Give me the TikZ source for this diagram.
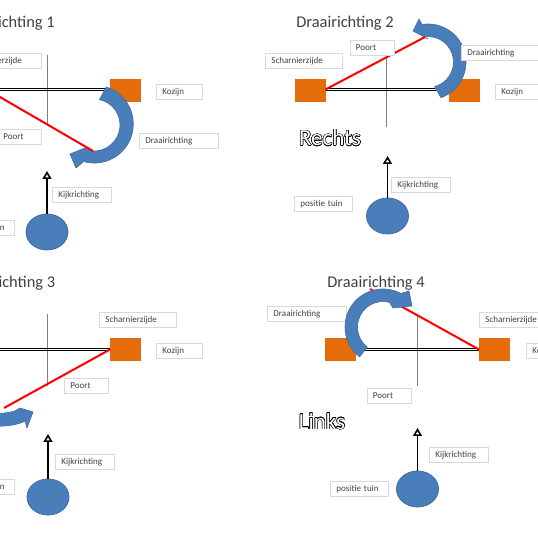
\documentclass[tikz,border=0pt]{standalone}
\usepackage{fontspec}
\setmainfont{Carlito}
\usepackage[copies]{contour}
\usetikzlibrary{arrows.meta,calc,shapes.geometric}
\definecolor{boxgray}{HTML}{D9D9D9}
\definecolor{textgray}{HTML}{404040}
\definecolor{framecol}{HTML}{E46C0A}
\definecolor{bluefill}{HTML}{4A7EBB}
\definecolor{blueline}{HTML}{3F6C9F}
\contourlength{0.5pt}
\contournumber{16}
\tikzset{
  lab/.style = {draw=boxgray, line width=.9pt, fill=white, anchor=west, inner xsep=6pt, inner ysep=0pt,
    text width=#1pt, text height=7pt, text depth=1pt, minimum height=15pt, font=\fontsize{9}{10}\selectfont, text=textgray},
  title/.style = {font=\fontsize{16.4}{18}\selectfont, text=textgray},
  side/.style = {font=\fontsize{23}{25}\selectfont, text=white},
  frame/.style = {fill=framecol, minimum width=31pt, minimum height=23pt, inner sep=0pt},
  eye/.style = {ellipse, draw=blueline, fill=bluefill, line width=.8pt, minimum width=42pt, minimum height=36pt, inner sep=0pt},
  doorline/.style = {draw=black, line width=.9pt},
  gate/.style = {red, line width=2pt},
  axis/.style = {draw=gray, line width=.8pt},
  look/.style = {line width=1.6pt, -{Triangle[open,length=8pt,width=9pt]}},
  turn/.style = {fill=bluefill, draw=blueline, line width=.6pt}
}
\begin{document}
\begin{tikzpicture}[x=1pt, y=1pt]
  \useasboundingbox (0,0) rectangle (538,538);
  \clip (0,0) rectangle (538,538);

  % Draairichting 1
  \node[title] (title1) at (6,515) {Draairichting 1};
  \coordinate (top1) at (47.5,483);
  \coordinate (bot1) at (47.5,413);
  \coordinate (hinge1) at (-13,448.5);
  \coordinate (door1) at (107,448.5);
  \coordinate (tip1) at (93,387);
  \coordinate (hand1) at (47,367);
  \coordinate (turn1) at (94,413);
  \node[frame] (frame1) at (125.5,447.5) {};
  \draw[axis] (top1) -- (bot1);
  \draw[doorline] ([yshift=1.2pt]hinge1) -- ([yshift=1.2pt]door1);
  \draw[doorline] ([yshift=-1.2pt]hinge1) -- ([yshift=-1.2pt]door1);
  \draw[turn] ($(turn1)+(72:40)$) arc[start angle=72, end angle=-106, radius=39]
    -- (76,370) -- (70,384) -- (85,390) -- ($(turn1)+(-95:26)$)
    arc[start angle=-95, end angle=78, radius=26] -- cycle;
  \draw[gate] (hinge1) -- (tip1);
  \node[lab=65] (hinge1lab) at (-36,477.5) {Scharnierzijde};
  \node[lab=32] (poort1) at (-3,401) {Poort};
  \node[lab=34] (kozijn1) at (156,446.5) {Kozijn};
  \node[lab=67] (draai1) at (139,397.5) {Draairichting};
  \node[lab=47] (kijk1) at (52,343) {Kijkrichting};
  \node[lab=46] (tuin1) at (-44,310.5) {positie tuin};
  \node[eye] (eye1) at (47,306) {};
  \draw[look] (eye1) -- (hand1);

  % Draairichting 2
  \node[title] (title2) at (345,515) {Draairichting 2};
  \coordinate (top2) at (386.5,483);
  \coordinate (bot2) at (386.5,411);
  \coordinate (hinge2) at (325.5,448.5);
  \coordinate (door2) at (437,448.5);
  \coordinate (tip2) at (425,501);
  \coordinate (hand2) at (387.5,382);
  \coordinate (turn2) at (428,476);
  \node[frame] (frame2a) at (310,447.5) {};
  \node[frame] (frame2b) at (464,447.5) {};
  \draw[axis] (top2) -- (bot2);
  \draw[doorline] ([yshift=1.2pt]hinge2) -- ([yshift=1.2pt]door2);
  \draw[doorline] ([yshift=-1.2pt]hinge2) -- ([yshift=-1.2pt]door2);
  \draw[turn] ($(turn2)+(-70:38)$) arc[start angle=-70, end angle=99, radius=38]
    -- (419,519) -- (413,507) -- (428,499) -- ($(turn2)+(98:25.5)$)
    arc[start angle=98, end angle=-75, radius=25.5] -- cycle;
  \draw[gate] (hinge2) -- (tip2);
  \node[lab=65] (hinge2lab) at (265,477.5) {Scharnierzijde};
  \node[lab=32] (poort2) at (349.5,490.5) {Poort};
  \node[lab=67] (draai2) at (461,485.5) {Draairichting};
  \node[lab=34] (kozijn2) at (495,446.5) {Kozijn};
  \node[lab=47] (kijk2) at (391,353.5) {Kijkrichting};
  \node[lab=46] (tuin2) at (294,334.5) {positie tuin};
  \node[side] (rechts) at (330,400) {\contour{black}{Rechts}};
  \node[eye] (eye2) at (387.5,322) {};
  \draw[look] (eye2) -- (hand2);

  % Draairichting 3
  \node[title] (title3) at (6.5,255) {Draairichting 3};
  \coordinate (top3) at (47.5,224);
  \coordinate (bot3) at (47.5,152);
  \coordinate (hinge3) at (110,188.5);
  \coordinate (door3) at (-13,188.5);
  \coordinate (tip3) at (4,130);
  \coordinate (hand3) at (48,104);
  \node[frame] (frame3) at (125.5,188) {};
  \draw[axis] (top3) -- (bot3);
  \draw[doorline] ([yshift=1.2pt]hinge3) -- ([yshift=1.2pt]door3);
  \draw[doorline] ([yshift=-1.2pt]hinge3) -- ([yshift=-1.2pt]door3);
  \draw[turn] (-10,112) .. controls (5,111) and (18,113) .. (25,117)
    -- (27,110) -- (33,126) -- (20,130) -- (15,127)
    .. controls (8,125) and (0,124) .. (-10,125) -- cycle;
  \draw[gate] (hinge3) -- (tip3);
  \node[lab=65] (hinge3lab) at (99,218) {Scharnierzijde};
  \node[lab=34] (kozijn3) at (156,187) {Kozijn};
  \node[lab=32] (poort3) at (64,152) {Poort};
  \node[lab=47] (kijk3) at (55,76) {Kijkrichting};
  \node[lab=46] (tuin3) at (-44,51.5) {positie tuin};
  \node[eye] (eye3) at (48,41) {};
  \draw[look] (eye3) -- (hand3);

  % Draairichting 4
  \node[title] (title4) at (376,255) {Draairichting 4};
  \coordinate (top4) at (417,224);
  \coordinate (bot4) at (417,152);
  \coordinate (hinge4) at (479,188.5);
  \coordinate (door4) at (360,188.5);
  \coordinate (tip4) at (370,249);
  \coordinate (hand4) at (417.5,110);
  \coordinate (turn4) at (383,211);
  \node[frame] (frame4a) at (340.5,188) {};
  \node[frame] (frame4b) at (494.5,188) {};
  \node[lab=67] (draai4) at (267,224.5) {Draairichting};
  \draw[axis] (top4) -- (bot4);
  \draw[doorline] ([yshift=1.2pt]hinge4) -- ([yshift=1.2pt]door4);
  \draw[doorline] ([yshift=-1.2pt]hinge4) -- ([yshift=-1.2pt]door4);
  \draw[gate] (hinge4) -- (tip4);
  \draw[turn] ($(turn4)+(-128:38)$) arc[start angle=-128, end angle=-298, radius=38]
    -- (409,247) -- (412,232) -- (393,230) -- ($(turn4)+(75:25.5)$)
    arc[start angle=75, end angle=232, radius=25.5] -- cycle;
  \node[lab=65] (hinge4lab) at (479,218) {Scharnierzijde};
  \node[lab=34] (kozijn4) at (526,187) {Kozijn};
  \node[lab=32] (poort4) at (366.5,142.5) {Poort};
  \node[lab=47] (kijk4) at (429,83) {Kijkrichting};
  \node[lab=46] (tuin4) at (330,49) {positie tuin};
  \node[side] (links) at (322,116.5) {\contour{black}{Links}};
  \node[eye] (eye4) at (417.5,49) {};
  \draw[look] (eye4) -- (hand4);
\end{tikzpicture}
\end{document}
